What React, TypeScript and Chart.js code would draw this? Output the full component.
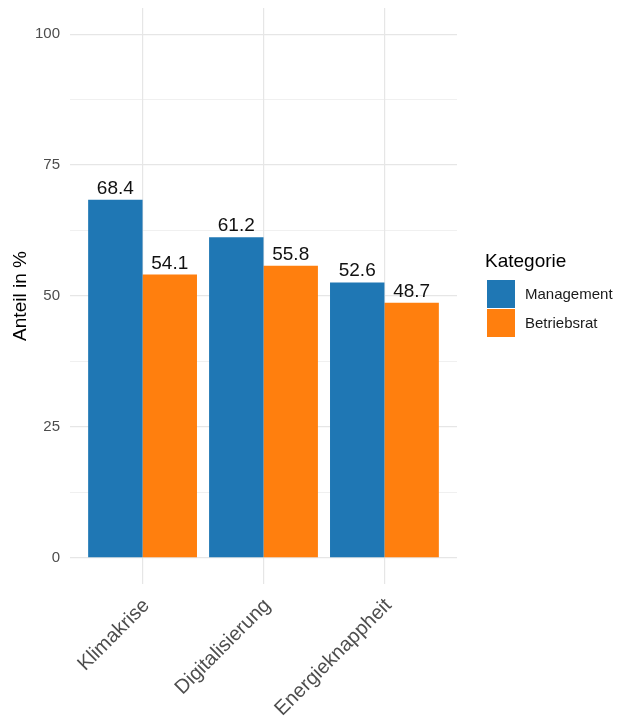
import React, { useEffect, useRef } from 'react';
import { Chart, registerables } from 'chart.js';
Chart.register(...registerables);

const categories = ['Klimakrise', 'Digitalisierung', 'Energieknappheit'];
const seriesNames = ['Management', 'Betriebsrat'];
const management = [68.4, 61.2, 52.6];
const betriebsrat = [54.1, 55.8, 48.7];
const seriesColors = ['#1f77b4', '#ff7f0e'];
const yMajorTicks = [0, 25, 50, 75, 100];
const yMinorTicks = [12.5, 37.5, 62.5, 87.5];
const yTitle = 'Anteil in %';
const legendTitle = 'Kategorie';

const FONT = "'Liberation Sans', Arial, sans-serif";
const GRID = '#e6e6e6';

const valueLabels = {
  id: 'valueLabels',
  afterDatasetsDraw(chart: any) {
    const ctx = chart.ctx;
    ctx.save();
    ctx.font = `19px ${FONT}`;
    ctx.fillStyle = '#111111';
    ctx.textAlign = 'center';
    ctx.textBaseline = 'alphabetic';
    chart.data.datasets.forEach((ds: any, di: number) => {
      const meta = chart.getDatasetMeta(di);
      meta.data.forEach((el: any, i: number) => {
        const v = ds.data[i].y;
        ctx.fillText(v.toFixed(1), el.x, el.y - 6);
      });
    });
    ctx.restore();
  },
};

const sideLegend = {
  id: 'sideLegend',
  afterDraw(chart: any) {
    const ctx = chart.ctx;
    const x0 = chart.chartArea.right + 30;
    ctx.save();
    ctx.fillStyle = '#000000';
    ctx.font = `19px ${FONT}`;
    ctx.textAlign = 'left';
    ctx.textBaseline = 'alphabetic';
    ctx.fillText(legendTitle, x0 - 2, 267);
    const box = 28;
    chart.data.datasets.forEach((ds: any, i: number) => {
      const y = 280 + i * (box + 1);
      ctx.fillStyle = ds.backgroundColor;
      ctx.fillRect(x0, y, box, box);
      ctx.fillStyle = '#1a1a1a';
      ctx.font = `15px ${FONT}`;
      ctx.textBaseline = 'middle';
      ctx.fillText(ds.label, x0 + box + 10, y + box / 2 + 1);
    });
    ctx.restore();
  },
};

export default function App() {
  const ref = useRef<HTMLCanvasElement>(null);
  useEffect(() => {
    document.body.style.margin = '0';
    const seriesValues = [management, betriebsrat];
    const chart = new Chart(ref.current as HTMLCanvasElement, {
      type: 'bar',
      data: {
        datasets: seriesNames.map((name, si) => ({
          label: name,
          data: seriesValues[si].map((v, i) => ({ x: i + 1, y: v })),
          backgroundColor: seriesColors[si],
          categoryPercentage: 0.9,
          barPercentage: 1,
        })),
      },
      options: {
        responsive: false,
        animation: false,
        layout: { padding: { top: 8, right: 165, left: 0, bottom: 0 } },
        plugins: { legend: { display: false }, tooltip: { enabled: false } },
        scales: {
          x: {
            type: 'linear',
            offset: false,
            min: 0.4,
            max: 3.6,
            afterBuildTicks: (s: any) => {
              s.ticks = categories.map((_, i) => ({ value: i + 1 }));
            },
            afterFit: (s: any) => {
              s.height = 136;
              s.paddingLeft = 0;
              s.paddingRight = 0;
            },
            ticks: {
              autoSkip: false,
              maxRotation: 45,
              minRotation: 45,
              padding: 10,
              labelOffset: 4,
              color: '#4d4d4d',
              font: { family: FONT, size: 20 },
              callback: (v: any) => categories[Math.round(v) - 1] ?? '',
            },
            grid: { color: GRID, lineWidth: 1.2, drawTicks: false, offset: false },
            border: { display: false },
          },
          y: {
            type: 'linear',
            min: -5,
            max: 105,
            afterBuildTicks: (s: any) => {
              s.ticks = [...yMajorTicks, ...yMinorTicks]
                .sort((a, b) => a - b)
                .map((v) => ({ value: v }));
            },
            afterFit: (s: any) => {
              s.width = 70;
              s.paddingTop = 0;
              s.paddingBottom = 0;
            },
            ticks: {
              padding: 10,
              color: '#4d4d4d',
              font: { family: FONT, size: 15 },
              callback: (v: any) => (yMajorTicks.includes(v) ? String(v) : ''),
            },
            grid: {
              color: GRID,
              drawTicks: false,
              lineWidth: (c: any) => (yMajorTicks.includes(c.tick?.value) ? 1.2 : 0.6),
            },
            border: { display: false },
            title: {
              display: true,
              text: yTitle,
              color: '#000000',
              font: { family: FONT, size: 19 },
              padding: { top: 9, bottom: 0 },
            },
          },
        },
      },
      plugins: [valueLabels, sideLegend],
    } as any);
    return () => chart.destroy();
  }, []);
  return (
    <div style={{ width: 622, height: 720, background: '#ffffff' }}>
      <canvas ref={ref} width={622} height={720} />
    </div>
  );
}
